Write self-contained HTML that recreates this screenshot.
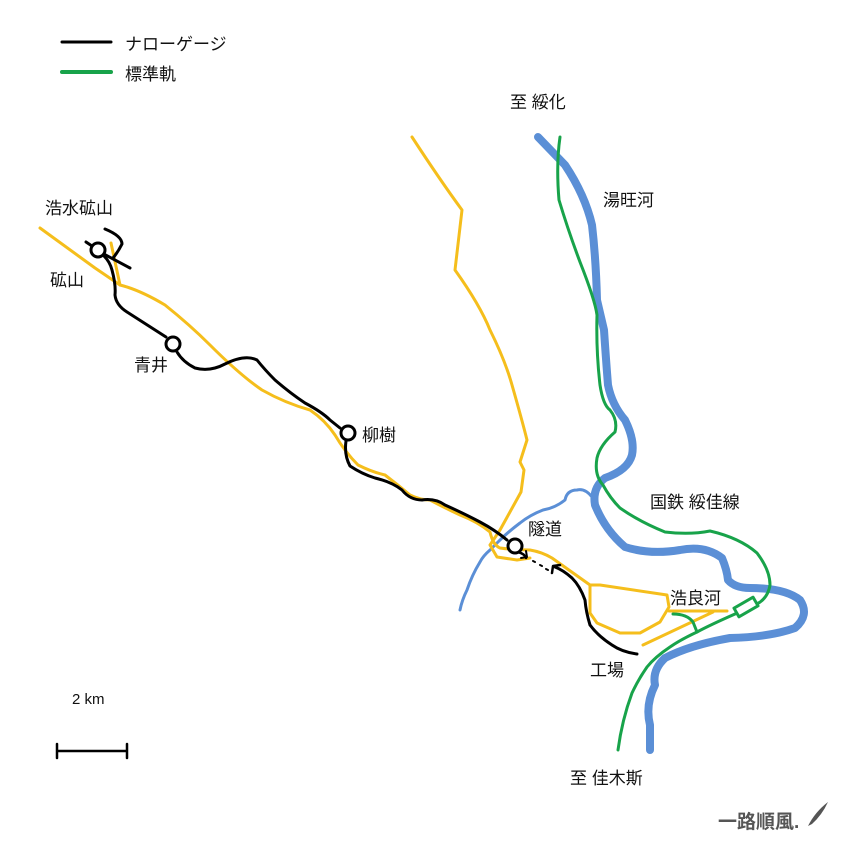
<!DOCTYPE html>
<html><head><meta charset="utf-8"><style>
html,body{margin:0;padding:0;background:#fff;}
svg{display:block;}
text{font-family:"Liberation Sans","Noto Sans CJK JP",sans-serif;fill:#111;font-size:17px;}
</style></head><body>
<svg width="845" height="845" viewBox="0 0 845 845" xmlns="http://www.w3.org/2000/svg">
<g fill="none" stroke-linecap="round" stroke-linejoin="round">
<!-- big river -->
<path d="M538,137 L565,165 Q585,195 592,225 Q596,260 597,300 L604,330 Q606,360 608,385 Q612,405 625,420 Q635,440 632,455 Q628,470 605,478 Q592,488 595,505 Q605,530 625,547 Q650,555 680,550 Q705,545 722,558 Q727,570 728,580 Q735,588 750,588 Q785,588 800,600 Q810,615 795,628 Q770,637 730,638 Q690,645 665,658 Q652,670 655,685 Q645,705 650,725 L650,750" stroke="#5b8fd6" stroke-width="8"/>
<!-- tributary -->
<path d="M592,497 Q585,488 577,490 Q567,490 565,500 Q555,508 543,510 Q530,515 520,523 Q508,532 500,540 L490,550 Q483,556 480,562 Q472,575 467,590 Q462,600 460,610" stroke="#5b8fd6" stroke-width="3"/>
<!-- yellow roads -->
<g stroke="#f5be1c" stroke-width="3">
<path d="M40,228 L95,268 L120,285 Q140,290 165,305 Q190,325 210,345 Q240,375 262,390 Q285,403 310,410 Q325,420 335,435 Q345,452 358,465 Q372,472 385,475 Q398,485 410,495 Q420,500 430,500 Q445,508 460,515 Q478,522 490,532 Q493,545 500,548 Q515,550 530,550 Q542,552 552,558 L590,585"/>
<path d="M590,585 L600,585 L667,595 L669,607 L660,622 L640,633 L620,633 L597,623 L590,613 Z"/>
<path d="M412,137 Q440,180 462,210 L455,270 Q480,305 490,330 Q505,360 512,385 Q522,420 527,440 L520,462 L524,470 L521,492 L500,530 L490,545 L497,557 L517,560 L530,558"/>
<path d="M111,243 L120,285"/>
<path d="M669,611 L727,611"/>
<path d="M643,645 L713,612"/>
</g>
<!-- green -->
<g stroke="#18a34a" stroke-width="3">
<path d="M560,137 Q556,165 559,200 Q568,230 580,262 Q595,300 597,315 Q596,350 600,385 Q603,405 610,410 Q618,420 615,432 Q600,445 597,458 Q594,475 603,485 Q610,498 620,508 Q640,522 665,532 Q690,535 710,531 Q740,538 757,553 Q770,570 770,585 Q768,598 757,604 L735,614 Q710,625 697,632 Q680,640 670,647 Q655,657 647,667 Q638,680 632,693 Q622,720 618,750"/>
<path d="M673,614 Q687,614 693,622 L697,632"/>
<rect x="735" y="602" width="22" height="10" fill="#fff" transform="rotate(-30 746 607)"/>
<path d="M62,72 L111,72" stroke-width="4"/>
</g>
<!-- black narrow gauge -->
<g stroke="#000" stroke-width="3">
<path d="M105,229 Q122,236 122,244 Q118,252 113,258"/>
<path d="M86,242 L92,246"/>
<path d="M100,252 L130,268"/>
<path d="M104,256 Q110,262 112,270 Q116,285 115,295 Q116,305 127,312 L166,337"/>
<path d="M177,352 Q183,362 195,368 Q210,372 225,364 Q245,354 257,360 Q265,370 275,380 Q290,393 305,403 Q322,412 330,420 L340,428"/>
<path d="M346,441 Q344,455 350,466 Q362,474 375,478 Q392,482 402,490 Q410,500 422,500 Q435,498 445,505 Q465,514 480,522 Q495,530 507,540"/>
<path d="M518,552 Q525,554 526,558" stroke-width="2.5"/>
<path d="M521,558 L527,557 L526,551" stroke-width="2"/>
<path d="M533,561 L535,562 M540,565 L542,566 M546,569 L548,570" stroke-width="2"/>
<path d="M637,654 Q622,652 612,645 Q598,636 590,625 Q586,612 585,600 Q580,586 572,578 Q563,570 555,567"/>
<path d="M552,573 L553,566 L560,565" stroke-width="2.5"/>
<path d="M62,42 L111,42" stroke-width="3"/>
<path d="M57,751 L127,751 M57,744 L57,758 M127,744 L127,758" stroke-width="2.5"/>
</g>
<g stroke="#000" stroke-width="3" fill="#fff">
<circle cx="98" cy="250" r="7"/>
<circle cx="173" cy="344" r="7"/>
<circle cx="348" cy="433" r="7"/>
<circle cx="515" cy="546" r="7"/>
</g>
</g>
<text x="125" y="50">ナローゲージ</text>
<text x="125" y="80">標準軌</text>
<text x="510" y="108">至 綏化</text>
<text x="603" y="206">湯旺河</text>
<text x="45" y="214">浩水砿山</text>
<text x="50" y="286">砿山</text>
<text x="134" y="371">青井</text>
<text x="362" y="441">柳樹</text>
<text x="528" y="535">隧道</text>
<text x="650" y="508">国鉄 綏佳線</text>
<text x="670" y="604">浩良河</text>
<text x="590" y="676">工場</text>
<text x="570" y="784">至 佳木斯</text>
<text x="72" y="704" style="font-size:15px">2 km</text>
<text x="718" y="828" style="font-size:19px;fill:#555;font-weight:bold">一路順風.</text>
<path d="M808,826 Q815,812 828,802 Q822,815 812,824 Z" fill="#555"/>
</svg>
</body></html>
